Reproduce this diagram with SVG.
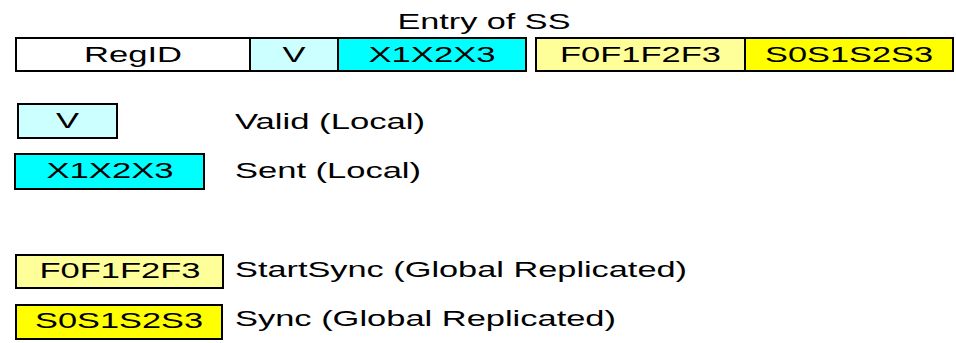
<svg xmlns="http://www.w3.org/2000/svg" width="956" height="343" viewBox="0 0 956 343">
  <style>
    .box { stroke: #000; stroke-width: 2; }
    .white { fill: #ffffff; }
    .ltcyan { fill: #ccffff; }
    .cyan { fill: #00ffff; }
    .ltyellow { fill: #ffff99; }
    .yellow { fill: #ffff00; }
    text { font-family: "Liberation Sans", Arial, sans-serif; font-size: 22px; fill: #000; }
    .c { text-anchor: middle; }
  </style>

  <!-- Title -->
  <text id="title" class="c" x="484" y="29" textLength="173" lengthAdjust="spacingAndGlyphs">Entry of SS</text>

  <!-- Entry record fields -->
  <g id="entry">
    <g id="f-regid">
      <rect class="box white" x="16" y="38" width="234" height="33"/>
      <text class="c" x="133" y="61.5" textLength="98" lengthAdjust="spacingAndGlyphs">RegID</text>
    </g>
    <g id="f-v">
      <rect class="box ltcyan" x="250" y="38" width="88" height="33"/>
      <text class="c" x="294" y="61.5" textLength="23" lengthAdjust="spacingAndGlyphs">V</text>
    </g>
    <g id="f-x">
      <rect class="box cyan" x="338" y="38" width="188" height="33"/>
      <text class="c" x="432" y="61.5" textLength="127" lengthAdjust="spacingAndGlyphs">X1X2X3</text>
    </g>
    <g id="f-f">
      <rect class="box ltyellow" x="536" y="38" width="209" height="33"/>
      <text class="c" x="640.5" y="61.5" textLength="161" lengthAdjust="spacingAndGlyphs">F0F1F2F3</text>
    </g>
    <g id="f-s">
      <rect class="box yellow" x="745" y="38" width="208" height="33"/>
      <text class="c" x="849" y="61.5" textLength="168" lengthAdjust="spacingAndGlyphs">S0S1S2S3</text>
    </g>
  </g>

  <!-- Legend -->
  <g id="legend-v">
    <rect class="box ltcyan" x="18" y="104" width="99" height="34"/>
    <text class="c" x="67.5" y="127.5" textLength="23" lengthAdjust="spacingAndGlyphs">V</text>
    <text x="235" y="129" textLength="190" lengthAdjust="spacingAndGlyphs">Valid (Local)</text>
  </g>
  <g id="legend-x">
    <rect class="box cyan" x="15" y="154" width="189" height="35"/>
    <text class="c" x="110" y="178" textLength="127" lengthAdjust="spacingAndGlyphs">X1X2X3</text>
    <text x="235" y="178" textLength="186" lengthAdjust="spacingAndGlyphs">Sent (Local)</text>
  </g>
  <g id="legend-f">
    <rect class="box ltyellow" x="16" y="255" width="207" height="33"/>
    <text class="c" x="120" y="277.5" textLength="161" lengthAdjust="spacingAndGlyphs">F0F1F2F3</text>
    <text x="235" y="277" textLength="452" lengthAdjust="spacingAndGlyphs">StartSync (Global Replicated)</text>
  </g>
  <g id="legend-s">
    <rect class="box yellow" x="16" y="305" width="206" height="34"/>
    <text class="c" x="119" y="328" textLength="168" lengthAdjust="spacingAndGlyphs">S0S1S2S3</text>
    <text x="235" y="326" textLength="381" lengthAdjust="spacingAndGlyphs">Sync (Global Replicated)</text>
  </g>
</svg>
